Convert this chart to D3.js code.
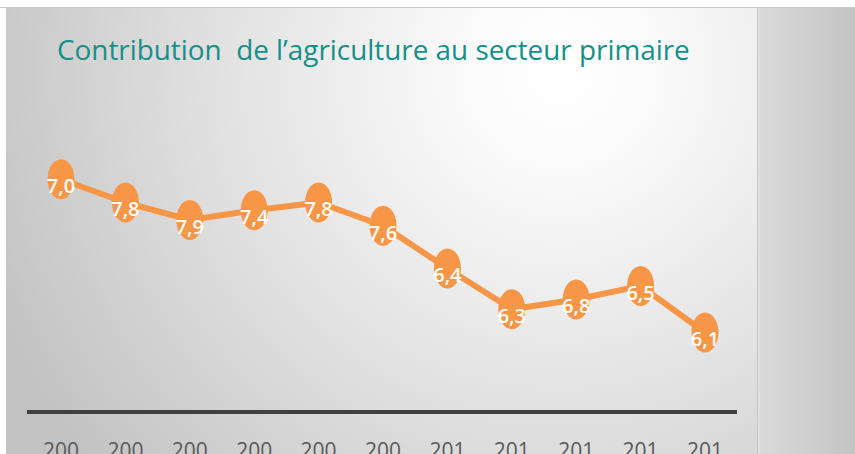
<!DOCTYPE html>
<html>
<head>
  <meta charset="utf-8">
  <script src="https://cdn.jsdelivr.net/npm/d3@7"></script>
  <style>
    body { margin: 0; background: #fff; }
    svg { display: block; }
  </style>
</head>
<body>
  <svg id="chart" width="855" height="454"></svg>
  <script>
    var title = "Contribution  de l\u2019agriculture au secteur primaire";
    var years = ["2004", "2005", "2006", "2007", "2008", "2009", "2010", "2011", "2012", "2013", "2014"];
    var values = [77.0, 75.8, 74.9, 75.4, 75.8, 74.6, 72.4, 70.3, 70.8, 71.5, 69.1];
    var labels = ["7,0", "7,8", "7,9", "7,4", "7,8", "7,6", "6,4", "6,3", "6,8", "6,5", "6,1"];

    var svg = d3.select("#chart"),
      width = +svg.attr("width"),
      height = +svg.attr("height");

    var defs = svg.append("defs");

    var bg = defs.append("radialGradient")
      .attr("id", "bg")
      .attr("gradientUnits", "userSpaceOnUse")
      .attr("cx", 560).attr("cy", 70).attr("r", 620);
    bg.append("stop").attr("offset", "0%").attr("stop-color", "#ffffff");
    bg.append("stop").attr("offset", "15%").attr("stop-color", "#fbfbfb");
    bg.append("stop").attr("offset", "60%").attr("stop-color", "#dedede");
    bg.append("stop").attr("offset", "100%").attr("stop-color", "#c2c2c2");

    var side = defs.append("linearGradient")
      .attr("id", "side")
      .attr("x1", "0%").attr("x2", "100%");
    side.append("stop").attr("offset", "0%").attr("stop-color", "#dadada");
    side.append("stop").attr("offset", "100%").attr("stop-color", "#c4c4c4");

    // slide background
    svg.append("rect")
      .attr("x", 6).attr("y", 7)
      .attr("width", 751).attr("height", height - 7)
      .attr("fill", "url(#bg)");

    svg.append("rect")
      .attr("x", 757).attr("y", 7)
      .attr("width", width - 757).attr("height", height - 7)
      .attr("fill", "url(#side)");

    svg.append("line")
      .attr("x1", 757.5).attr("x2", 757.5)
      .attr("y1", 7).attr("y2", height)
      .attr("stroke", "#c6c6c6").attr("stroke-width", 1);
    svg.append("line")
      .attr("x1", 759).attr("x2", 759)
      .attr("y1", 7).attr("y2", height)
      .attr("stroke", "#e6e6e6").attr("stroke-width", 1);

    svg.append("line")
      .attr("x1", 0).attr("x2", width)
      .attr("y1", 7.5).attr("y2", 7.5)
      .attr("stroke", "#c8c8c8").attr("stroke-width", 1);

    // title
    var t = svg.append("text")
      .attr("x", 57)
      .attr("y", 60)
      .style("font-family", "'Open Sans', sans-serif")
      .style("font-size", "26px")
      .style("fill", "#148f89")
      .attr("xml:space", "preserve")
      .text(title);
    var tw = t.node().getComputedTextLength();
    t.style("font-size", (26 * 633 / tw) + "px");

    // scales
    var x = d3.scalePoint()
      .domain(years)
      .range([61, 705]);

    var y = d3.scaleLinear()
      .domain([65, 80])
      .range([412, 121]);

    // axis line
    svg.append("line")
      .attr("x1", 27).attr("x2", 737)
      .attr("y1", y(65)).attr("y2", y(65))
      .attr("stroke", "#404040")
      .attr("stroke-width", 4);

    // year labels: only the first line of each wrapped year shows in the frame
    svg.append("g")
      .selectAll("text")
      .data(years)
      .enter()
      .append("text")
      .attr("x", d => x(d))
      .attr("y", 458)
      .attr("text-anchor", "middle")
      .style("font-family", "'Open Sans', sans-serif")
      .style("font-size", "21px")
      .style("fill", "#595959")
      .text(d => d.slice(0, 3));

    // line
    var line = d3.line()
      .x((d, i) => x(years[i]))
      .y(d => y(d));

    svg.append("path")
      .datum(values)
      .attr("d", line)
      .attr("fill", "none")
      .attr("stroke", "#f79646")
      .attr("stroke-width", 6)
      .attr("stroke-linejoin", "round");

    // markers
    svg.append("g")
      .selectAll("ellipse")
      .data(values)
      .enter()
      .append("ellipse")
      .attr("cx", (d, i) => x(years[i]))
      .attr("cy", d => y(d))
      .attr("rx", 13.5)
      .attr("ry", 20)
      .attr("fill", "#f79646");

    // value labels
    svg.append("g")
      .selectAll("text")
      .data(values)
      .enter()
      .append("text")
      .attr("x", (d, i) => x(years[i]))
      .attr("y", d => y(d) + 14)
      .attr("text-anchor", "middle")
      .style("font-family", "'Open Sans', sans-serif")
      .style("font-size", "20px")
      .style("font-weight", "600")
      .style("fill", "#ffffff")
      .text((d, i) => labels[i]);
  </script>
</body>
</html>
